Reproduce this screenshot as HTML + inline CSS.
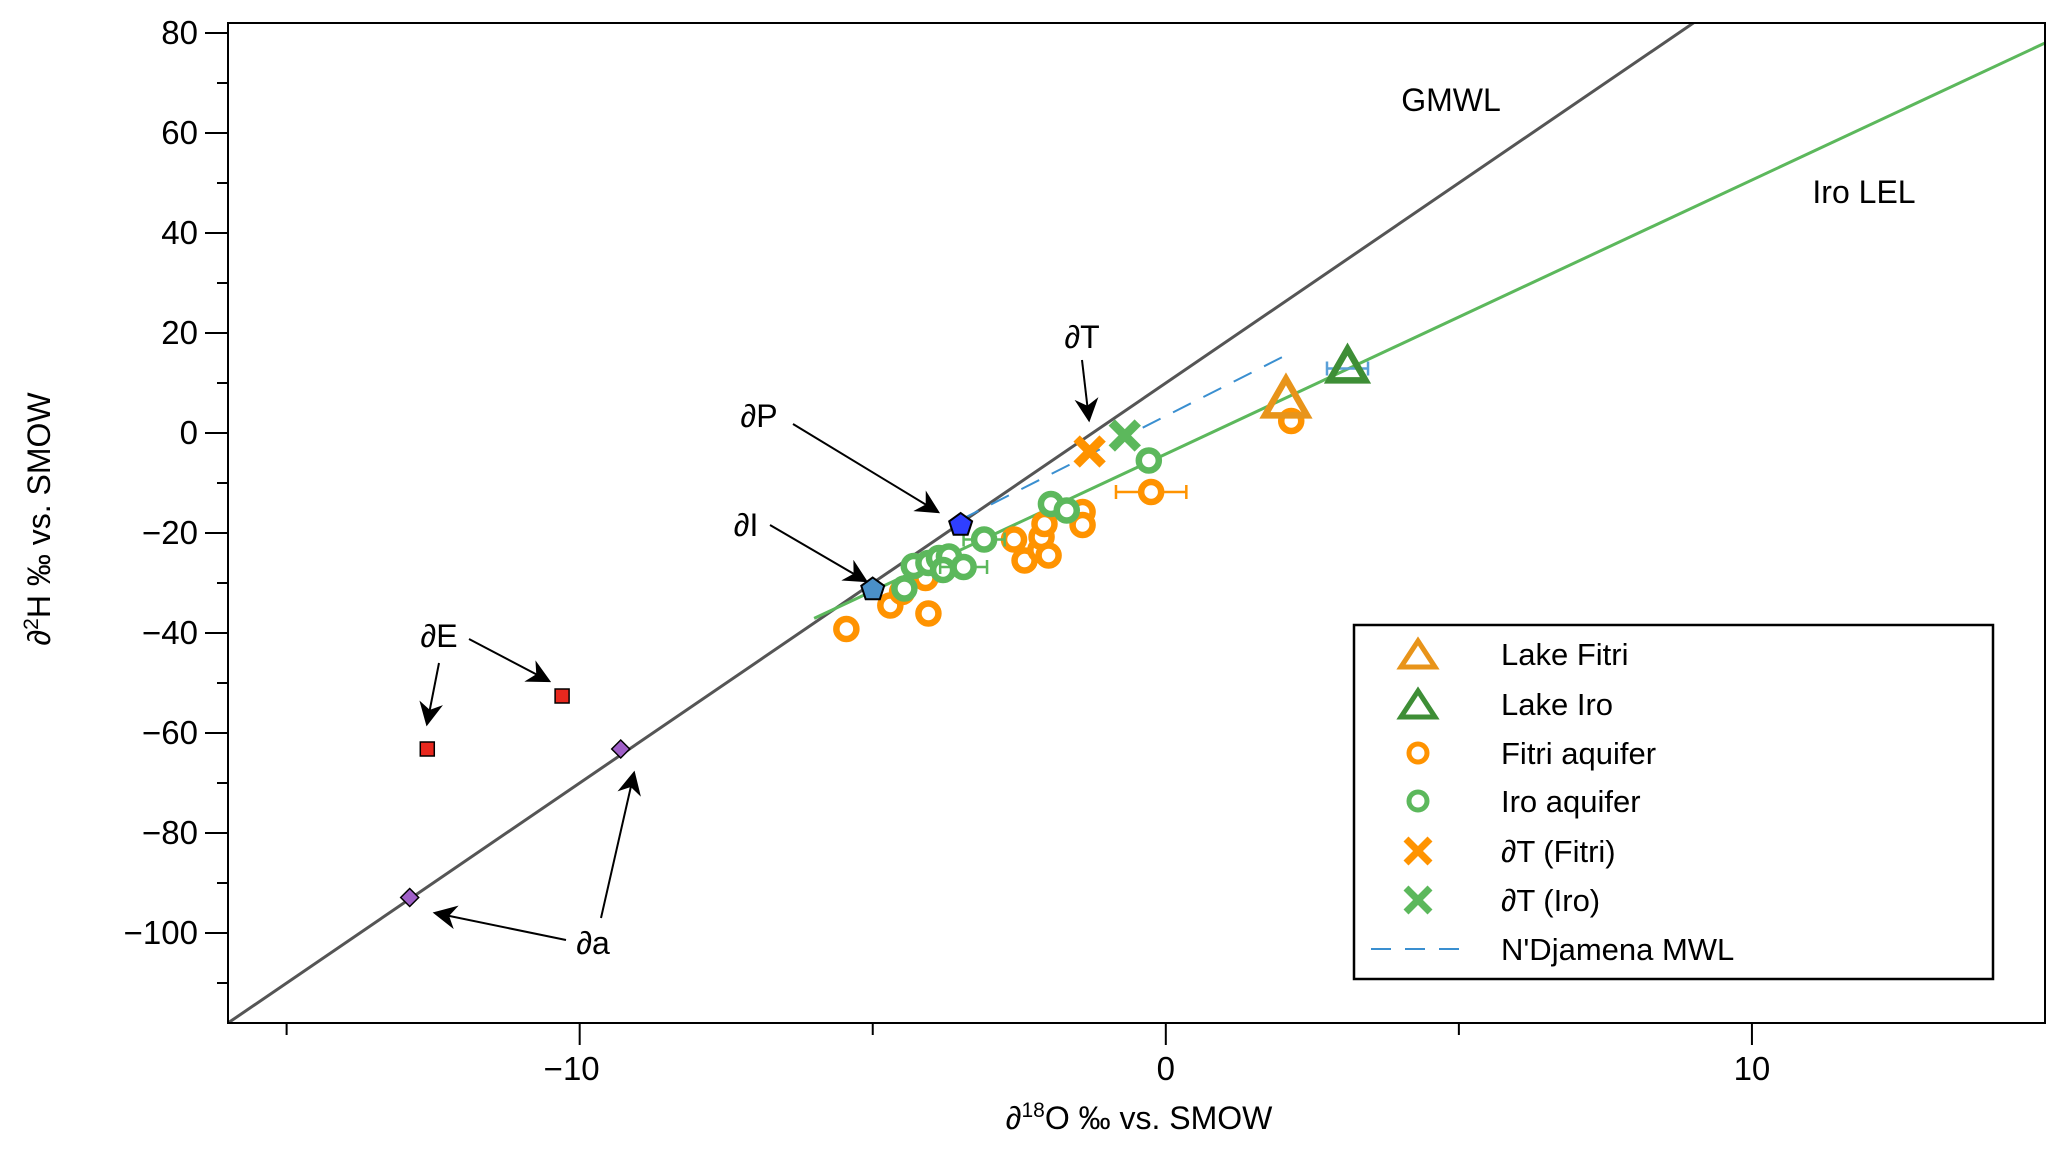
<!DOCTYPE html>
<html><head><meta charset="utf-8">
<style>
html,body{margin:0;padding:0;background:#fff;}
svg{display:block;font-family:"Liberation Sans",Arial,sans-serif;}
</style></head>
<body>
<svg id="chart" width="2067" height="1149" viewBox="0 0 2067 1149" xmlns="http://www.w3.org/2000/svg">
<defs>
<clipPath id="pc"><rect x="228" y="23" width="1817" height="1000"/></clipPath>
</defs>
<g id="plot"></g>
</svg>
<script>
// ---- data ----
const xDomain = [-16, 15];
const yDomain = [-118, 82];
const xMajorTicks = [-10, 0, 10];
const xMinorTicks = [-15, -5, 5];
const yMajorTicks = [80, 60, 40, 20, 0, -20, -40, -60, -80, -100];
const yMinorTicks = [70, 50, 30, 10, -10, -30, -50, -70, -90, -110];
const gmwlLine = [8, 10];       // slope, intercept
const iroLelLine = [5.48, -4.2];
const iroLelRange = [-6.0, 15];
const ndjLine = [5.93, 3.4];
const ndjRange = [-3.5, 2.05];
const fitriAqX = [-5.45,-4.7,-4.5,-4.05,-3.96,-4.1,-2.59,-2.41,-2.14,-2.12,-2.07,-2.0,-1.42,-1.42,-0.25,2.14];
const fitriAqY = [-39.2,-34.5,-31.8,-36.1,-27.4,-29,-21.3,-25.5,-23.4,-20.8,-18.2,-24.5,-15.8,-18.4,-11.8,2.4];
const fitriAqErr = [0,0,0,0,0,0,0,0,0,0,0,0,0,0,0.6,0];
const iroAqX = [-4.46,-4.3,-4.05,-3.87,-3.7,-3.8,-3.45,-3.1,-1.96,-1.69,-0.29];
const iroAqY = [-31.1,-26.6,-26,-25,-24.7,-27.4,-26.8,-21.3,-14.2,-15.5,-5.5];
const iroAqErr = [0,0,0,0,0,0,0.4,0.35,0,0,0];
const lakeFitri = [2.05, 6.3];
const lakeIro = [3.1, 12.9];
const lakeIroErr = 0.35;
const dtFitri = [-1.3, -3.7];
const dtIro = [-0.7, -0.5];
const deltaP = [-3.5, -18.4];
const deltaI = [-5.0, -31.3];
const deltaEX = [-12.6, -10.3];
const deltaEY = [-63.2, -52.6];
const deltaAX = [-9.3, -12.9];
const deltaAY = [-63.2, -92.9];

// ---- layout ----
const L=228,R=2045,T=23,B=1023;
const sx=v=>L+(v-xDomain[0])/(xDomain[1]-xDomain[0])*(R-L);
const sy=v=>B-(v-yDomain[0])/(yDomain[1]-yDomain[0])*(B-T);
const NS='http://www.w3.org/2000/svg';
const plot=document.getElementById('plot');
function mk(tag,attrs,parent){const e=document.createElementNS(NS,tag);for(const k in attrs)e.setAttribute(k,attrs[k]);(parent||plot).appendChild(e);return e;}
const ORANGE='#ff9300', GREEN='#5cb85c';

const cg=mk('g',{'clip-path':'url(#pc)'});



function lineFn(p,x0,x1,stroke,w,dash,name){
  const l=mk('line',{x1:sx(x0),y1:sy(p[0]*x0+p[1]),x2:sx(x1),y2:sy(p[0]*x1+p[1]),stroke:stroke,'stroke-width':w},cg);
  if(dash)l.setAttribute('stroke-dasharray',dash);
  
  
}
lineFn(gmwlLine,xDomain[0],xDomain[1],'#555',3,null,'gmwl-line');
lineFn(iroLelLine,iroLelRange[0],iroLelRange[1],GREEN,3,null,'iro-lel-line');
lineFn(ndjLine,ndjRange[0],ndjRange[1],'#3a8fd0',2,'20,14','ndjamena-mwl-line');

function errbar(x,y,e,col){
  if(!e)return;
  const g=mk('g',{stroke:col,'stroke-width':2.5},cg);
  
  
  mk('line',{x1:sx(x-e),x2:sx(x+e),y1:sy(y),y2:sy(y)},g);
  mk('line',{x1:sx(x-e),x2:sx(x-e),y1:sy(y)-7,y2:sy(y)+7},g);
  mk('line',{x1:sx(x+e),x2:sx(x+e),y1:sy(y)-7,y2:sy(y)+7},g);
}
function circ(x,y,col,name){
  const c=mk('circle',{cx:sx(x),cy:sy(y),r:10,fill:'#fff',stroke:col,'stroke-width':6.5},cg);
  
  
}
fitriAqX.forEach((x,i)=>{errbar(x,fitriAqY[i],fitriAqErr[i],ORANGE);circ(x,fitriAqY[i],ORANGE,'fitri-aquifer-point');});
iroAqX.forEach((x,i)=>{errbar(x,iroAqY[i],iroAqErr[i],GREEN);circ(x,iroAqY[i],GREEN,'iro-aquifer-point');});

function tri(cx,cy,s,col,parent,name){
  const h=s*0.87;
  const p=mk('polygon',{points:`${cx},${cy-h*0.62} ${cx-s/2},${cy+h*0.38} ${cx+s/2},${cy+h*0.38}`,fill:'none',stroke:col,'stroke-width':6.5,'stroke-linejoin':'miter'},parent);
  
  
}
tri(sx(lakeFitri[0]),sy(lakeFitri[1]),42,'#e8941a',cg,'lake-fitri-point');
errbar(lakeIro[0],lakeIro[1],lakeIroErr,'#5aa0d8');
tri(sx(lakeIro[0]),sy(lakeIro[1]),36,'#3e8e36',cg,'lake-iro-point');

function cross(cx,cy,s,col,parent,name){
  const g=mk('g',{stroke:col,'stroke-width':9},parent);
  
  
  mk('line',{x1:cx-s,y1:cy-s,x2:cx+s,y2:cy+s},g);
  mk('line',{x1:cx-s,y1:cy+s,x2:cx+s,y2:cy-s},g);
}
cross(sx(dtFitri[0]),sy(dtFitri[1]),13,ORANGE,cg,'delta-t-fitri-point');
cross(sx(dtIro[0]),sy(dtIro[1]),13,GREEN,cg,'delta-t-iro-point');

function pent(x,y,col,name){
  const cx=sx(x),cy=sy(y),r=12,pts=[];
  for(let i=0;i<5;i++){const a=-Math.PI/2+i*2*Math.PI/5;pts.push((cx+r*Math.cos(a)).toFixed(1)+','+(cy+r*Math.sin(a)).toFixed(1));}
  const p=mk('polygon',{points:pts.join(' '),fill:col,stroke:'#000','stroke-width':2},cg);
  
  
}
pent(deltaP[0],deltaP[1],'#2f3fff','delta-p-point');
pent(deltaI[0],deltaI[1],'#4a90c8','delta-i-point');

deltaEX.forEach((x,i)=>{
  const r=mk('rect',{x:sx(x)-7,y:sy(deltaEY[i])-7,width:14,height:14,fill:'#e8281e',stroke:'#000','stroke-width':1.5},cg);
  
  
});
deltaAX.forEach((x,i)=>{
  const cx=sx(x),cy=sy(deltaAY[i]);
  const p=mk('polygon',{points:`${cx},${cy-9} ${cx+9},${cy} ${cx},${cy+9} ${cx-9},${cy}`,fill:'#a060c8',stroke:'#000','stroke-width':1.5},cg);
  
  
});

const frame=mk('rect',{x:L,y:T,width:R-L,height:B-T,fill:'none',stroke:'#000','stroke-width':2});



yMajorTicks.forEach(v=>{
  const t=mk('line',{x1:L-23,x2:L,y1:sy(v),y2:sy(v),stroke:'#000','stroke-width':2});
  
  
  const lb=mk('text',{x:L-30,y:sy(v)+11,'text-anchor':'end','font-size':33});
  lb.textContent=v<0?'\u2212'+Math.abs(v):String(v);
  
  
});
yMinorTicks.forEach(v=>{
  const t=mk('line',{x1:L-11,x2:L,y1:sy(v),y2:sy(v),stroke:'#000','stroke-width':2});
  
  
});
xMajorTicks.forEach(v=>{
  const t=mk('line',{x1:sx(v),x2:sx(v),y1:B,y2:B+22,stroke:'#000','stroke-width':2});
  
  
  const lb=mk('text',{x:sx(v)-(v<0?8:0),y:B+57,'text-anchor':'middle','font-size':33});
  lb.textContent=v<0?'\u2212'+Math.abs(v):String(v);
  
  
});
xMinorTicks.forEach(v=>{
  const t=mk('line',{x1:sx(v),x2:sx(v),y1:B,y2:B+12,stroke:'#000','stroke-width':2});
  
  
});
</script>
<svg style="position:absolute;left:0;top:0" width="2067" height="1149" xmlns="http://www.w3.org/2000/svg" font-family="Liberation Sans, Arial, sans-serif">
<defs>
<marker id="ah2" viewBox="0 0 20 20" refX="18" refY="10" markerWidth="24" markerHeight="24" markerUnits="userSpaceOnUse" orient="auto">
<path d="M0,0 L20,10 L0,20 L6,10 Z" fill="#000"/>
</marker>
</defs>
<text x="1139" y="1129" text-anchor="middle" font-size="32">∂<tspan font-size="21" dy="-12">18</tspan><tspan dy="12">O ‰ vs. SMOW</tspan></text>
<text transform="translate(50,519) rotate(-90)" text-anchor="middle" font-size="32">∂<tspan font-size="21" dy="-12">2</tspan><tspan dy="12">H ‰ vs. SMOW</tspan></text>
<text x="1451" y="111" text-anchor="middle" font-size="32">GMWL</text>
<text x="1864" y="203" text-anchor="middle" font-size="32">Iro LEL</text>
<g font-size="32" stroke-width="2">
<text x="1082" y="348" text-anchor="middle">∂T</text>
<line x1="1082" y1="360" x2="1089" y2="420" stroke="#000" marker-end="url(#ah2)"/>
<text x="759" y="427" text-anchor="middle">∂P</text>
<line x1="793" y1="424" x2="938" y2="512" stroke="#000" marker-end="url(#ah2)"/>
<text x="746" y="536" text-anchor="middle">∂I</text>
<line x1="770" y1="525" x2="866" y2="581" stroke="#000" marker-end="url(#ah2)"/>
<text x="439" y="647" text-anchor="middle">∂E</text>
<line x1="469" y1="639" x2="549" y2="681" stroke="#000" marker-end="url(#ah2)"/>
<line x1="439" y1="663" x2="427" y2="724" stroke="#000" marker-end="url(#ah2)"/>
<text x="593" y="954" text-anchor="middle">∂a</text>
<line x1="566" y1="940" x2="435" y2="913" stroke="#000" marker-end="url(#ah2)"/>
<line x1="601" y1="918" x2="634" y2="773" stroke="#000" marker-end="url(#ah2)"/>
</g>
<g font-size="31">
<rect x="1354" y="625" width="639" height="354" fill="#fff" stroke="#000" stroke-width="2.5"/>
<polygon points="1418,641 1401,667 1435,667" fill="none" stroke="#e8941a" stroke-width="5"/>
<text x="1501" y="665">Lake Fitri</text>
<polygon points="1418,691 1401,717 1435,717" fill="none" stroke="#3e8e36" stroke-width="5"/>
<text x="1501" y="715">Lake Iro</text>
<circle cx="1418" cy="753" r="9" fill="#fff" stroke="#ff9300" stroke-width="5"/>
<text x="1501" y="764">Fitri aquifer</text>
<circle cx="1418" cy="801" r="9" fill="#fff" stroke="#5cb85c" stroke-width="5"/>
<text x="1501" y="812">Iro aquifer</text>
<g stroke="#ff9300" stroke-width="7"><line x1="1406" y1="839" x2="1430" y2="863"/><line x1="1406" y1="863" x2="1430" y2="839"/></g>
<text x="1501" y="862">∂T (Fitri)</text>
<g stroke="#5cb85c" stroke-width="7"><line x1="1406" y1="888" x2="1430" y2="912"/><line x1="1406" y1="912" x2="1430" y2="888"/></g>
<text x="1501" y="911">∂T (Iro)</text>
<line x1="1371" y1="949" x2="1470" y2="949" stroke="#3a8fd0" stroke-width="2" stroke-dasharray="20,14"/>
<text x="1501" y="960">N'Djamena MWL</text>
</g>
</svg>
</body></html>
